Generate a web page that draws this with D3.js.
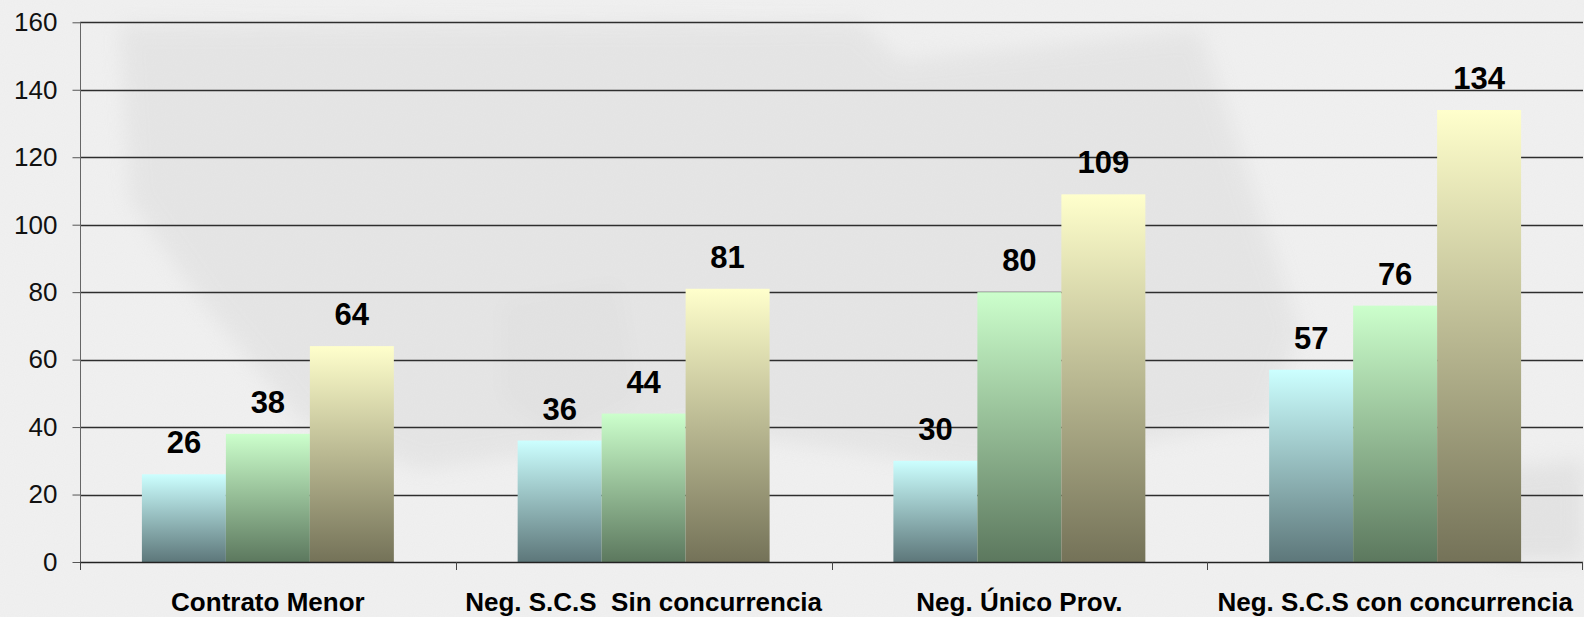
<!DOCTYPE html>
<html>
<head>
<meta charset="utf-8">
<script src="https://cdn.jsdelivr.net/npm/d3@7"></script>
<style>
  html, body { margin: 0; padding: 0; background: #f0f0f0; }
  svg { display: block; }
</style>
</head>
<body>
<div id="chart"></div>
<script>

// data
var categories = ["Contrato Menor", "Neg. S.C.S  Sin concurrencia", "Neg. Único Prov.", "Neg. S.C.S con concurrencia"];
var seriesNames = ["s1", "s2", "s3"];
var serie1 = [26, 36, 30, 57];
var serie2 = [38, 44, 80, 76];
var serie3 = [64, 81, 109, 134];
var yTicks = [0, 20, 40, 60, 80, 100, 120, 140, 160];

// gradient colours per series (top, bottom)
var gradColors = [
  ["#ccffff", "#5d777a"],
  ["#ccffcc", "#5c785e"],
  ["#ffffcc", "#747258"]
];

var width = 1584, height = 617;
var margin = {top: 22.3, right: 1, bottom: 55, left: 80};

var svg = d3.select("#chart")
  .append("svg")
    .attr("width", width)
    .attr("height", height)
    .style("font-family", "'Liberation Sans', Arial, sans-serif");

var defs = svg.append("defs");

// soft background: grey paper with a faded picture behind the plot
defs.append("filter").attr("id", "blurBg")
  .attr("x", "-20%").attr("y", "-20%").attr("width", "140%").attr("height", "140%")
  .append("feGaussianBlur").attr("stdDeviation", 10);

var grain = defs.append("filter").attr("id", "grain");
grain.append("feTurbulence").attr("type", "fractalNoise").attr("baseFrequency", 0.9).attr("numOctaves", 1).attr("result", "n");
grain.append("feColorMatrix").attr("type", "matrix")
  .attr("values", "0 0 0 0 0.5  0 0 0 0 0.5  0 0 0 0 0.5  0 0 0 0.08 0");

gradColors.forEach(function(c, i) {
  var g = defs.append("linearGradient")
    .attr("id", "grad" + i)
    .attr("x1", 0).attr("y1", 0).attr("x2", 0).attr("y2", 1);
  g.append("stop").attr("offset", "0%").attr("stop-color", c[0]);
  g.append("stop").attr("offset", "100%").attr("stop-color", c[1]);
});

svg.append("rect")
  .attr("width", width).attr("height", height)
  .attr("fill", "#f1f1f1");

var ghost = svg.append("g").attr("filter", "url(#blurBg)").attr("opacity", 0.3);
ghost.append("path")
  .attr("d", "M120,25 L860,22 L900,60 L1200,30 L1250,180 L1300,330 L1270,420 L980,470 L700,430 L420,470 L300,420 L200,300 L130,200 Z")
  .attr("fill", "#cfcfcf");
ghost.append("path")
  .attr("d", "M500,300 L620,280 L640,400 L560,440 L500,400 Z")
  .attr("fill", "#c4c4c4");
ghost.append("path")
  .attr("d", "M1480,470 L1584,460 L1584,560 L1500,560 Z")
  .attr("fill", "#c8c8c8");

svg.append("rect")
  .attr("width", width).attr("height", height)
  .attr("filter", "url(#grain)");

// scales
var x0 = d3.scaleBand()
  .domain(categories)
  .range([margin.left, width - margin.right])
  .padding(0);

var x1 = d3.scaleBand()
  .domain(seriesNames)
  .range([0, x0.bandwidth()])
  .paddingInner(0)
  .paddingOuter(0.737);

var y = d3.scaleLinear()
  .domain([0, 160])
  .range([height - margin.bottom, margin.top]);

// gridlines
svg.append("g")
  .selectAll("line")
  .data(yTicks.filter(function(d) { return d > 0; }))
  .enter()
  .append("line")
    .attr("x1", margin.left)
    .attr("x2", width - margin.right)
    .attr("y1", function(d) { return Math.round(y(d)) + 0.5; })
    .attr("y2", function(d) { return Math.round(y(d)) + 0.5; })
    .attr("stroke", "#2e2e2e")
    .attr("stroke-width", 1.3);

// y axis
var yAxis = svg.append("g")
  .attr("transform", "translate(" + (margin.left + 0.5) + ",0)")
  .call(d3.axisLeft(y).tickValues(yTicks).tickSize(8).tickPadding(15).tickSizeOuter(0));
yAxis.select(".domain").remove();
yAxis.append("line")
  .attr("x1", 0).attr("x2", 0)
  .attr("y1", y(160)).attr("y2", y(0) + 8)
  .attr("stroke", "#666");
yAxis.selectAll(".tick line").attr("stroke", "#555");
yAxis.selectAll(".tick text")
  .attr("font-size", "26px")
  .attr("font-family", "'Liberation Sans', Arial, sans-serif")
  .attr("fill", "#111");

// bars
var rows = categories.map(function(c, i) {
  return {cat: c, values: [serie1[i], serie2[i], serie3[i]]};
});

var groups = svg.append("g")
  .selectAll("g")
  .data(rows)
  .enter()
  .append("g")
    .attr("transform", function(d) { return "translate(" + x0(d.cat) + ",0)"; });

groups.selectAll("rect")
  .data(function(d) { return d.values.map(function(v, j) { return {s: seriesNames[j], j: j, v: v}; }); })
  .enter()
  .append("rect")
    .attr("x", function(d) { return x1(d.s); })
    .attr("width", x1.bandwidth())
    .attr("y", function(d) { return y(d.v); })
    .attr("height", function(d) { return y(0) - y(d.v); })
    .attr("fill", function(d) { return "url(#grad" + d.j + ")"; });

// value labels
groups.selectAll("text")
  .data(function(d) { return d.values.map(function(v, j) { return {s: seriesNames[j], v: v}; }); })
  .enter()
  .append("text")
    .attr("x", function(d) { return x1(d.s) + x1.bandwidth() / 2; })
    .attr("y", function(d) { return y(d.v) - 21; })
    .attr("text-anchor", "middle")
    .attr("font-size", "31px")
    .attr("font-weight", "bold")
    .attr("fill", "#000")
    .text(function(d) { return d.v; });

// x axis
var xAxisY = y(0);
var xg = svg.append("g");
xg.append("line")
  .attr("x1", margin.left).attr("x2", width - margin.right)
  .attr("y1", Math.round(xAxisY) + 0.5).attr("y2", Math.round(xAxisY) + 0.5)
  .attr("stroke", "#222")
  .attr("stroke-width", 1.3);

var bounds = categories.map(function(c) { return x0(c); }).concat([x0.range()[1] - 1]);
xg.selectAll(".xt")
  .data(bounds)
  .enter()
  .append("line")
    .attr("class", "xt")
    .attr("x1", function(d) { return Math.round(d) + 0.5; })
    .attr("x2", function(d) { return Math.round(d) + 0.5; })
    .attr("y1", xAxisY)
    .attr("y2", xAxisY + 8)
    .attr("stroke", "#444");

xg.selectAll(".xl")
  .data(categories)
  .enter()
  .append("text")
    .attr("class", "xl")
    .attr("x", function(d) { return x0(d) + x0.bandwidth() / 2; })
    .attr("y", 611)
    .attr("text-anchor", "middle")
    .attr("font-size", "26px")
    .attr("font-weight", "bold")
    .attr("fill", "#000")
    .style("white-space", "pre")
    .text(function(d) { return d; });

</script>
</body>
</html>
